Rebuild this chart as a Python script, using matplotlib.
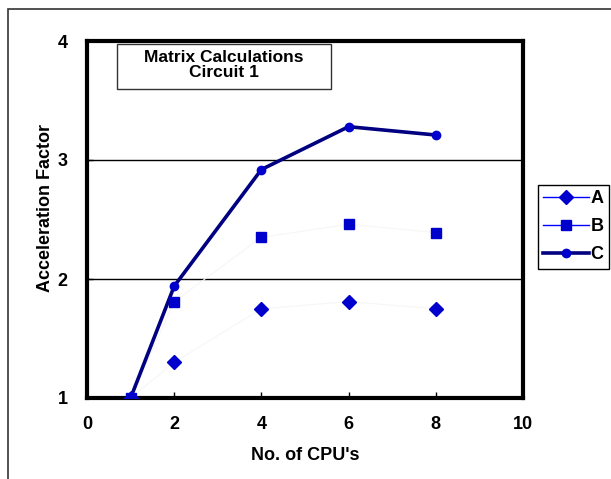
import matplotlib
matplotlib.use('Agg')
import matplotlib.pyplot as plt
from matplotlib.lines import Line2D
from matplotlib.patches import Rectangle

plt.rcParams['font.family'] = ['Liberation Sans', 'DejaVu Sans']
plt.rcParams['font.weight'] = 'bold'

# Data
cpus = [1, 2, 4, 6, 8]
series_a = [1.0, 1.30, 1.75, 1.81, 1.75]
series_b = [1.0, 1.81, 2.35, 2.46, 2.39]
series_c = [1.0, 1.94, 2.92, 3.28, 3.21]
x_ticks = [0, 2, 4, 6, 8, 10]
y_ticks = [1, 2, 3, 4]

marker_col = '#0000cc'
line_col = '#0000ff'
navy = '#000080'
fs = 13

fig = plt.figure(figsize=(6.11, 4.79), dpi=100)

# Outer chart frame
fig.patches.append(Rectangle((8 / 611, -0.1), 1.2, 1 - 9 / 479 + 0.1,
                             transform=fig.transFigure, fill=False,
                             edgecolor='#333333', linewidth=1.2))

ax = fig.add_axes([87 / 611, 1 - 398 / 479, (523 - 87) / 611, (398 - 41) / 479])

# Series A and B have almost invisible connecting lines
ax.plot(cpus, series_a, color='#f6f6f6', linewidth=0.8, zorder=2)
ax.plot(cpus, series_b, color='#f6f6f6', linewidth=0.8, zorder=2)
ax.plot(cpus, series_a, linestyle='none', marker='D', markersize=7,
        color=marker_col, zorder=4)
ax.plot(cpus, series_b, linestyle='none', marker='s', markersize=7.5,
        color=marker_col, zorder=4)
ax.plot(cpus, series_c, color=navy, linewidth=2.6, marker='o', markersize=6,
        markerfacecolor=marker_col, markeredgecolor=marker_col, zorder=3)

ax.set_xlim(0, 10)
ax.set_ylim(1, 4)
ax.set_xticks(x_ticks)
ax.set_yticks(y_ticks)
for yy in [2, 3]:
    ax.axhline(yy, color='black', linewidth=1.0, zorder=1)

for sp in ax.spines.values():
    sp.set_linewidth(3)
    sp.set_color('black')
ax.tick_params(direction='in', length=4, width=1, labelsize=fs)
ax.tick_params(axis='x', pad=13)
ax.tick_params(axis='y', pad=14)
for lab in ax.get_xticklabels() + ax.get_yticklabels():
    lab.set_fontweight('bold')

ax.set_xlabel("No. of CPU's", fontsize=fs, fontweight='bold')
ax.set_ylabel('Acceleration Factor', fontsize=fs, fontweight='bold')
ax.xaxis.set_label_coords(0.5, (398 - 455) / 357)
ax.xaxis.label.set_va('center')
ax.yaxis.set_label_coords((46 - 87) / 436, (398 - 208) / 357)
ax.yaxis.label.set_va('center')

# Title box
ax.text(224 / 611, 1 - 65 / 479, 'Matrix Calculations\nCircuit 1',
        transform=fig.transFigure, ha='center', va='center', fontsize=12.5,
        fontweight='bold', linespacing=1.05)
fig.patches.append(Rectangle((117 / 611, 1 - 89 / 479), (331 - 117) / 611,
                             (89 - 44) / 479, transform=fig.transFigure,
                             fill=False, edgecolor='#333333', linewidth=1.0))

# Legend
handles = [
    Line2D([], [], color=line_col, linewidth=1, marker='D', markersize=7,
           markerfacecolor=marker_col, markeredgecolor=marker_col),
    Line2D([], [], color=line_col, linewidth=1, marker='s', markersize=7,
           markerfacecolor=marker_col, markeredgecolor=marker_col),
    Line2D([], [], color=navy, linewidth=2.6, marker='o', markersize=6,
           markerfacecolor=marker_col, markeredgecolor=marker_col),
]
leg = fig.legend(handles, ['A', 'B', 'C'], loc='upper left',
                 bbox_to_anchor=(538 / 611, 1 - 185 / 479), fancybox=False,
                 edgecolor='black', fontsize=fs, handlelength=2.5,
                 handletextpad=0.1, borderpad=0.3, labelspacing=0.6,
                 borderaxespad=0, framealpha=1)
leg.get_frame().set_linewidth(1.0)
for t in leg.get_texts():
    t.set_fontweight('bold')

fig.savefig('out.png', dpi=100)
